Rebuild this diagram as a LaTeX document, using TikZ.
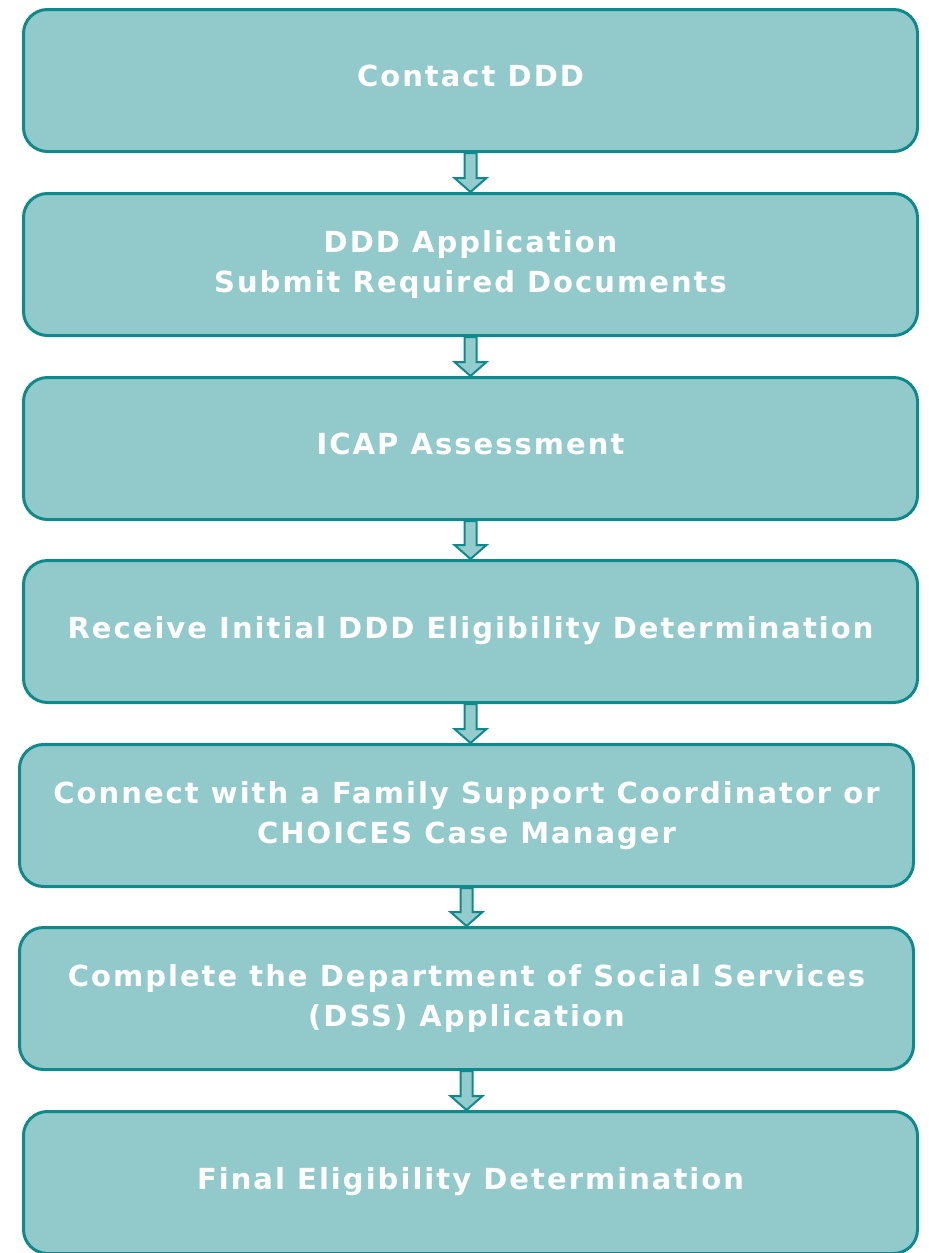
\documentclass[tikz,border=0pt]{standalone}
\usepackage{fontspec}
\setmainfont{DejaVu Sans}
\newfontfamily\labelfont[LetterSpace=7]{DejaVu Sans}
\usetikzlibrary{calc}
\definecolor{boxfill}{HTML}{92CACC}
\definecolor{boxline}{HTML}{0E8A8C}
\definecolor{arrowfill}{HTML}{94CBCD}
% invisible rule giving the last line of a label a fixed depth
\newcommand\stepstrut[1]{\rule[-#1]{0pt}{#1}}
\tikzset{
  stepbox/.style={draw=boxline, line width=3pt, fill=boxfill, rounded corners=24pt,
    minimum width=894pt, minimum height=142pt, inner sep=0pt, align=center,
    text=white, font=\labelfont\fontsize{29}{40}\selectfont\bfseries},
  blockarrow/.style={draw=boxline, line width=2pt, fill=arrowfill, line join=miter},
}
% block arrow from the bottom of #1 down to the top of #2
\newcommand\flowarrow[2]{%
  \draw[blockarrow] ($(#1.south)+(-6,0)$) -- ($(#1.south |- #2.north)+(-6,-14)$)
    -- ++(-10,0) -- (#1.south |- #2.north) -- ++(16,-14) -- ++(-10,0)
    -- ($(#1.south)+(6,0)$) -- cycle;}
\begin{document}
\begin{tikzpicture}[x=1pt,y=-1pt]
\useasboundingbox (0,0) rectangle (929,1253);
\clip (0,0) rectangle (929,1253);
\node[stepbox] (b1) at (470.5,80.5) {Contact DDD\stepstrut{9pt}};
\node[stepbox] (b2) at (470.5,264.5) {DDD Application\\Submit Required Documents\stepstrut{6pt}};
\node[stepbox] (b3) at (470.5,448.5) {ICAP Assessment\stepstrut{9pt}};
\node[stepbox] (b4) at (470.5,631.5) {Receive Initial DDD Eligibility Determination\stepstrut{9pt}};
\node[stepbox] (b5) at (466.5,815.5) {Connect with a Family Support Coordinator or\\CHOICES Case Manager\stepstrut{6pt}};
\node[stepbox] (b6) at (466.5,998.5) {Complete the Department of Social Services\\(DSS) Application\stepstrut{6pt}};
\node[stepbox] (b7) at (470.5,1182.5) {Final Eligibility Determination\stepstrut{9pt}};
\flowarrow{b1}{b2}
\flowarrow{b2}{b3}
\flowarrow{b3}{b4}
\flowarrow{b4}{b5}
\flowarrow{b5}{b6}
\flowarrow{b6}{b7}
\end{tikzpicture}
\end{document}
